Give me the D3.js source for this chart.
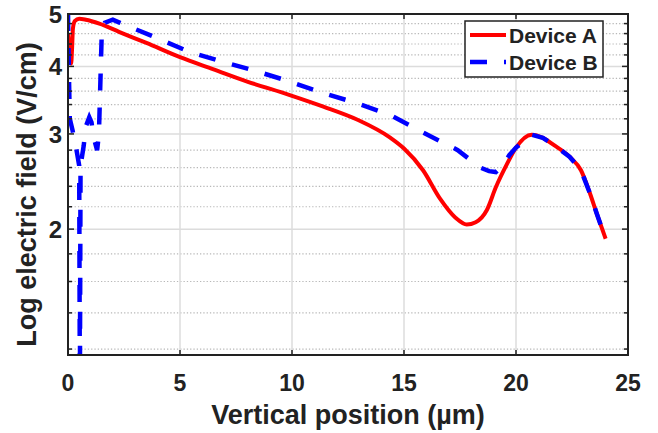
<!DOCTYPE html>
<html>
<head>
<meta charset="utf-8">
<script src="https://cdn.jsdelivr.net/npm/d3@7"></script>
<style>
body { margin: 0; background: #fff; }
text { font-family: "Liberation Sans", Arial, sans-serif; font-weight: bold; fill: #222; }
</style>
</head>
<body>
<script>
// chart size
var width = 658;
var height = 433;
var margin = {left: 68, right: 30, top: 14, bottom: 78};

// Device A (red, solid)
var posA = [0, 0.06, 0.14, 0.18, 0.22, 0.3, 0.5, 0.8, 1.4, 2.3, 3.5, 5.0, 6.5, 8.0, 9.9, 11.4, 12.9, 14.4, 15.0, 15.85, 16.6, 17.3, 17.8, 18.2, 18.7, 19.1, 19.6, 20.0, 20.7, 21.2, 21.7, 22.4, 22.9, 23.3, 23.6, 24.0];
var fieldA = [4.6, 4.35, 4.05, 4.3, 4.7, 4.85, 4.9, 4.88, 4.8, 4.63, 4.42, 4.16, 3.95, 3.75, 3.54, 3.37, 3.19, 2.95, 2.82, 2.57, 2.28, 2.1, 2.04, 2.06, 2.17, 2.39, 2.64, 2.83, 2.99, 2.95, 2.86, 2.72, 2.57, 2.33, 2.14, 1.92];

// Device B (blue, dashed)
var posB = [0, 0.02, 0.05, 0.08, 0.2, 0.35, 0.5, 0.53, 0.56, 0.7, 0.8, 0.95, 1.05, 1.15, 1.3, 1.38, 1.45, 1.5, 1.65, 2.0, 2.3, 3.66, 5.45, 6.9, 8.4, 9.9, 11.4, 12.9, 14.4, 15.85, 17.4, 18.4, 18.8, 19.1, 19.4, 19.7, 20.0, 20.7, 21.2, 21.7, 22.4, 22.9, 23.3, 23.6, 24.0];
var fieldB = [5.0, 4.4, 3.7, 3.2, 3.05, 2.85, 2.62, 1.0, 2.62, 2.85, 3.1, 3.22, 3.15, 2.95, 2.8, 3.0, 3.8, 4.5, 4.82, 4.88, 4.82, 4.57, 4.25, 4.08, 3.92, 3.75, 3.57, 3.42, 3.25, 3.02, 2.8, 2.6, 2.56, 2.55, 2.62, 2.74, 2.83, 2.99, 2.95, 2.86, 2.72, 2.57, 2.33, 2.14, 1.92];

var xTicks = [0, 5, 10, 15, 20, 25];
var yTicks = [2, 3, 4, 5];
var yMinor = [1.2, 1.4, 1.6, 1.8, 2.2, 2.4, 2.6, 2.8, 3.2, 3.4, 3.6, 3.8, 4.2, 4.4, 4.6, 4.8];
var seriesNames = ["Device A", "Device B"];

var svg = d3.select("body").append("svg")
    .attr("width", width)
    .attr("height", height);

var x = d3.scaleLinear().domain([0, 25]).range([margin.left, width - margin.right]);
var y = d3.scaleLog().domain([1.17, 5]).range([height - margin.bottom, margin.top]);

var x0 = x.range()[0], x1 = x.range()[1];
var y0 = y.range()[0], y1 = y.range()[1];

// minor grid (dotted)
svg.append("g").selectAll("line")
    .data(yMinor).enter().append("line")
    .attr("x1", x0).attr("x2", x1)
    .attr("y1", d => y(d)).attr("y2", d => y(d))
    .attr("stroke", "#b8b8b8")
    .attr("stroke-width", 1.2)
    .attr("stroke-dasharray", "1.3,2");

// major grid
svg.append("g").selectAll("line")
    .data(yTicks.filter(d => d < 5)).enter().append("line")
    .attr("x1", x0).attr("x2", x1)
    .attr("y1", d => y(d)).attr("y2", d => y(d))
    .attr("stroke", "#dcdcdc")
    .attr("stroke-width", 1.5);
svg.append("g").selectAll("line")
    .data(xTicks.filter(d => d > 0 && d < 25)).enter().append("line")
    .attr("y1", y0).attr("y2", y1)
    .attr("x1", d => x(d)).attr("x2", d => x(d))
    .attr("stroke", "#dcdcdc")
    .attr("stroke-width", 1.5);

// clip for data lines
svg.append("clipPath").attr("id", "clip")
  .append("rect")
    .attr("x", x0).attr("y", y1)
    .attr("width", x1 - x0).attr("height", y0 - y1);

var line = d3.line()
    .x(d => x(d[0]))
    .y(d => y(d[1]))
    .curve(d3.curveMonotoneX);

var lineB = d3.line()
    .x(d => x(d[0]))
    .y(d => y(d[1]))
    .curve(d3.curveLinear);

var dataA = posA.map((p, i) => [p, fieldA[i]]);
var dataB = posB.map((p, i) => [p, fieldB[i]]);

var plot = svg.append("g").attr("clip-path", "url(#clip)");

plot.append("path")
    .datum(dataA)
    .attr("d", line)
    .attr("fill", "none")
    .attr("stroke", "#ff0000")
    .attr("stroke-width", 4)
    .attr("stroke-linejoin", "round");

plot.append("path")
    .datum(dataB)
    .attr("d", lineB)
    .attr("fill", "none")
    .attr("stroke", "#0000ff")
    .attr("stroke-width", 4.5)
    .attr("stroke-dasharray", "17,17");

// ticks (inside, all four sides)
var ticks = svg.append("g").attr("stroke", "#222").attr("stroke-width", 1.5);
xTicks.forEach(function(t) {
    ticks.append("line").attr("x1", x(t)).attr("x2", x(t)).attr("y1", y0).attr("y2", y0 - 5);
    ticks.append("line").attr("x1", x(t)).attr("x2", x(t)).attr("y1", y1).attr("y2", y1 + 5);
});
yTicks.concat(yMinor).forEach(function(t) {
    var len = yTicks.indexOf(t) >= 0 ? 6 : 4;
    ticks.append("line").attr("y1", y(t)).attr("y2", y(t)).attr("x1", x0).attr("x2", x0 + len);
    ticks.append("line").attr("y1", y(t)).attr("y2", y(t)).attr("x1", x1).attr("x2", x1 - len);
});

// box
svg.append("rect")
    .attr("x", x0).attr("y", y1)
    .attr("width", x1 - x0).attr("height", y0 - y1)
    .attr("fill", "none")
    .attr("stroke", "#222")
    .attr("stroke-width", 2);

// tick labels
svg.append("g").selectAll("text")
    .data(xTicks).enter().append("text")
    .attr("x", d => x(d))
    .attr("y", y0 + 36)
    .attr("text-anchor", "middle")
    .style("font-size", "23px")
    .text(d => d);

svg.append("g").selectAll("text")
    .data(yTicks).enter().append("text")
    .attr("x", x0 - 6)
    .attr("y", d => y(d) + 9)
    .attr("text-anchor", "end")
    .style("font-size", "24px")
    .text(d => d);

// axis titles
svg.append("text")
    .attr("x", (x0 + x1) / 2)
    .attr("y", 424)
    .attr("text-anchor", "middle")
    .style("font-size", "27px")
    .text("Vertical position (\u00b5m)");

svg.append("text")
    .attr("transform", "translate(36," + ((y0 + y1) / 2 + 10) + ") rotate(-90)")
    .attr("text-anchor", "middle")
    .style("font-size", "27px")
    .text("Log electric field (V/cm)");

// legend
var legend = svg.append("g");
legend.append("rect")
    .attr("x", 465).attr("y", 21)
    .attr("width", 138).attr("height", 56)
    .attr("fill", "#fff")
    .attr("stroke", "#222")
    .attr("stroke-width", 1.5);
var legColors = ["#ff0000", "#0000ff"];
seriesNames.forEach(function(name, i) {
    var ly = 35 + i * 27;
    legend.append("line")
        .attr("x1", 470).attr("x2", 506)
        .attr("y1", ly).attr("y2", ly)
        .attr("stroke", legColors[i])
        .attr("stroke-width", i === 0 ? 4 : 4.5)
        .attr("stroke-dasharray", i === 0 ? null : "17,17");
    legend.append("text")
        .attr("x", 509)
        .attr("y", ly + 8)
        .style("font-size", "21px")
        .text(name);
});
</script>
</body>
</html>
